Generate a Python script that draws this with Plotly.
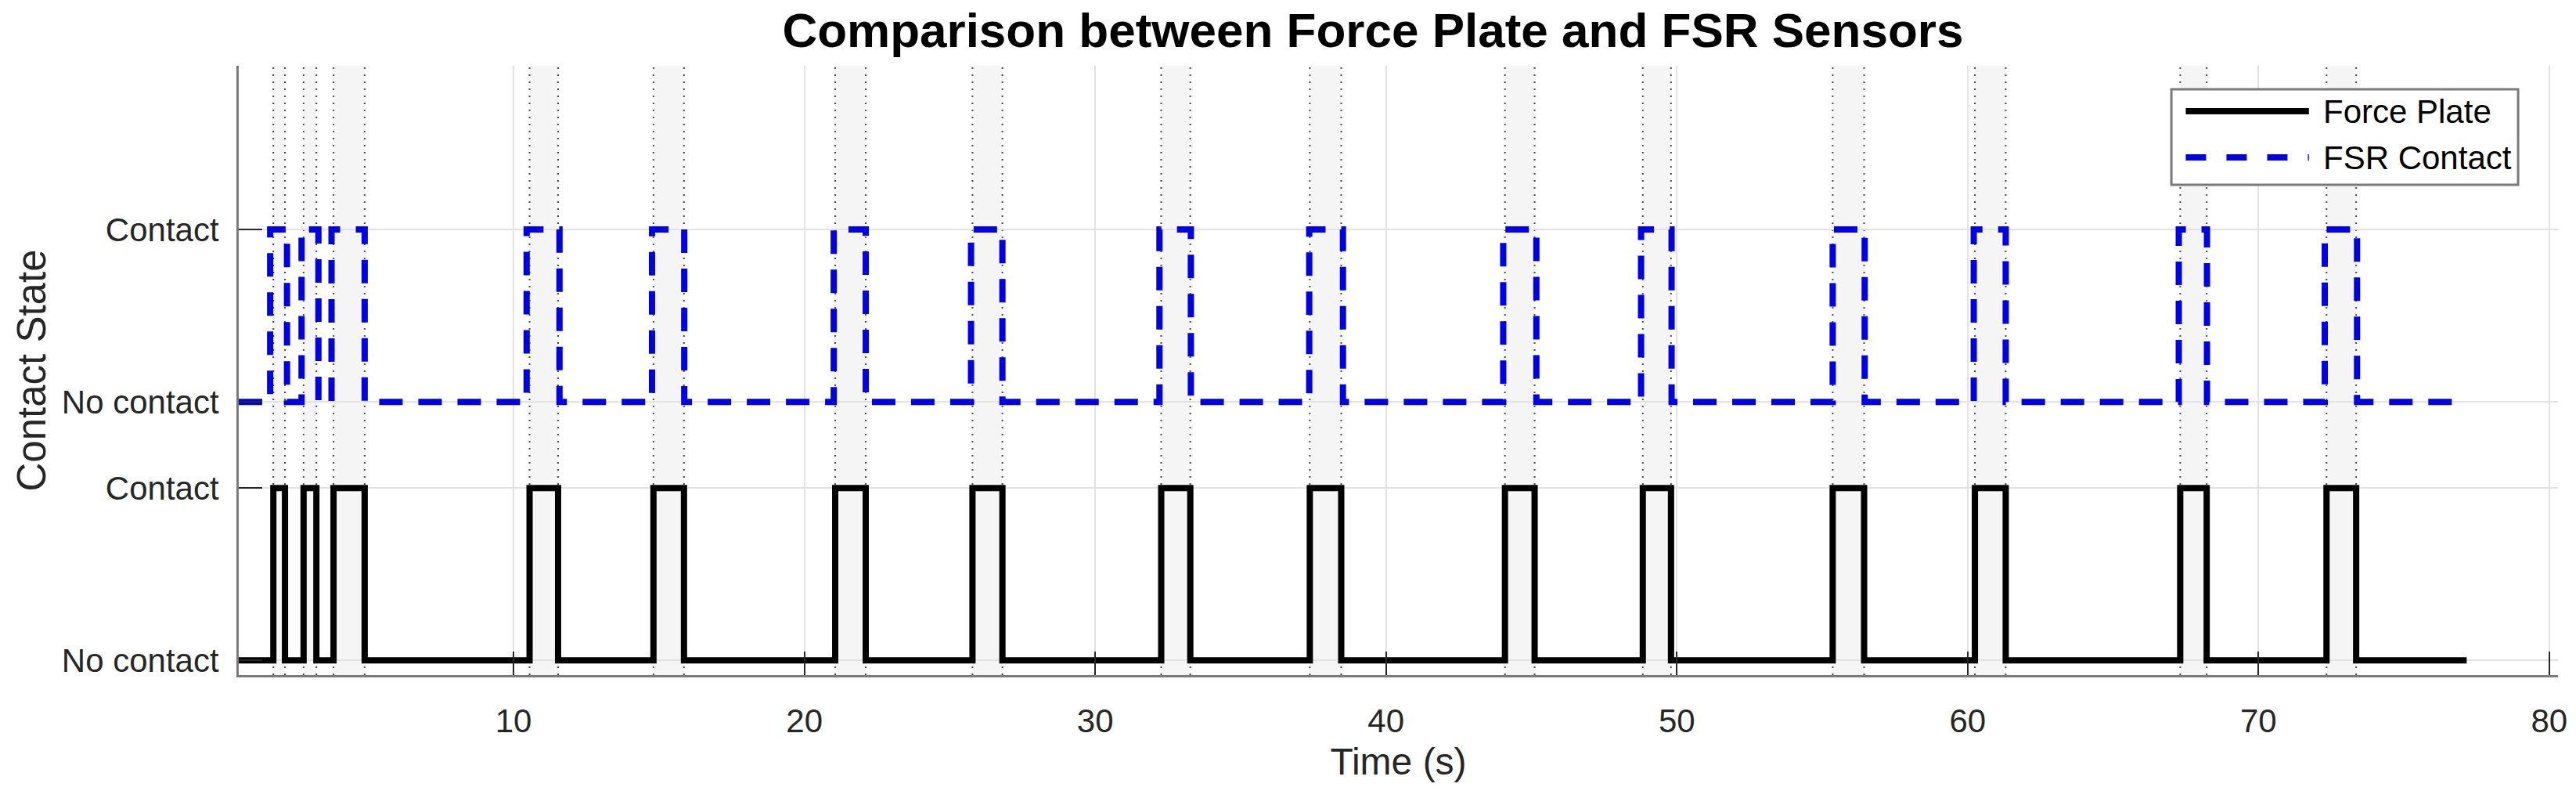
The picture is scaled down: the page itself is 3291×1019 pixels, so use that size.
import plotly.graph_objects as go

# ---------------- data ----------------
t_start = 0.55
t_end = 77.16

fp_rise = [1.74, 2.78, 3.81, 10.55, 14.81, 21.06, 25.78, 32.27, 37.38,
           44.09, 48.83, 55.36, 60.25, 67.31, 72.34]
fp_fall = [2.14, 3.22, 4.88, 11.53, 15.86, 22.11, 26.81, 33.27, 38.46,
           45.11, 49.80, 56.44, 61.31, 68.22, 73.36]

fsr_rise = [1.63, 2.71, 3.74, 10.45, 14.76, 21.01, 25.73, 32.21, 37.36,
            44.03, 48.77, 55.36, 60.21, 67.26, 72.28]
fsr_fall = [2.21, 3.29, 4.88, 11.58, 15.87, 22.11, 26.81, 33.29, 38.52,
            45.17, 49.82, 56.46, 61.31, 68.23, 73.39]

fsr_offset = 1.5

ytick_vals = [0, 1, 1.5, 2.5]
ytick_text = ["No contact", "Contact", "No contact", "Contact"]
xtick_vals = [10, 20, 30, 40, 50, 60, 70, 80]

series_names = ["Force Plate", "FSR Contact"]


def step_series(rises, falls, offset=0.0):
    xs = [t_start]
    ys = [0 + offset]
    for r, f in zip(rises, falls):
        xs += [r, f]
        ys += [1 + offset, 0 + offset]
    xs.append(t_end)
    ys.append(0 + offset)
    return xs, ys


fp_x, fp_y = step_series(fp_rise, fp_fall)
fsr_x, fsr_y = step_series(fsr_rise, fsr_fall, fsr_offset)

FONT = "Liberation Sans, Arial, Helvetica, sans-serif"
TXT = "#262626"
BLUE = "rgb(0,0,230)"

fig = go.Figure()

fig.add_trace(go.Scatter(
    x=fp_x, y=fp_y, mode="lines", line_shape="hv",
    line=dict(color="black", width=8), name=series_names[0], showlegend=False))
fig.add_trace(go.Scatter(
    x=fsr_x, y=fsr_y, mode="lines", line_shape="hv",
    line=dict(color=BLUE, width=8, dash="30px,20px"), name=series_names[1],
    showlegend=False))

shapes = []
for r, f in zip(fp_rise, fp_fall):
    shapes.append(dict(type="rect", xref="x", yref="paper", x0=r, x1=f, y0=0, y1=1,
                       fillcolor="#f5f5f5", line=dict(width=0), layer="below"))
for r, f in zip(fp_rise, fp_fall):
    for xv in (r, f):
        shapes.append(dict(type="line", xref="x", yref="paper", x0=xv, x1=xv, y0=0, y1=1,
                           line=dict(color="#4a4a4a", width=2, dash="2px,7px"),
                           layer="between"))

# custom legend (box, sample lines, labels) in paper coordinates
lx0, lx1, ly0, ly1 = 0.8333, 0.9828, 0.8046, 0.9614
row_y = [0.9254, 0.8496]
sx0, sx1 = 0.8395, 0.8926
tx = 0.8980
shapes.append(dict(type="rect", xref="paper", yref="paper", x0=lx0, x1=lx1, y0=ly0, y1=ly1,
                   fillcolor="white", line=dict(color="#7a7a7a", width=3), layer="above"))
shapes.append(dict(type="line", xref="paper", yref="paper", x0=sx0, x1=sx1,
                   y0=row_y[0], y1=row_y[0], line=dict(color="black", width=8), layer="above"))
shapes.append(dict(type="line", xref="paper", yref="paper", x0=sx0, x1=sx1,
                   y0=row_y[1], y1=row_y[1], line=dict(color=BLUE, width=8, dash="26px,26px"),
                   layer="above"))
annotations = []
for name, yy in zip(series_names, row_y):
    annotations.append(dict(text=name, xref="paper", yref="paper", x=tx, y=yy,
                            xanchor="left", yanchor="middle", showarrow=False,
                            font=dict(family=FONT, size=42, color="black")))

fig.update_layout(
    width=3291, height=1019,
    margin=dict(l=305, r=23, t=84, b=157),
    paper_bgcolor="white", plot_bgcolor="white",
    title=dict(text="Comparison between Force Plate and FSR Sensors",
               x=0.489, xref="paper", y=1 - 38 / 1019, yref="container",
               xanchor="center", yanchor="middle",
               font=dict(family=FONT, size=62, color="black", weight="bold")),
    shapes=shapes, annotations=annotations,
    showlegend=False,
    font=dict(family=FONT, color=TXT),
)

fig.update_xaxes(
    range=[0.55, 80.3], tickvals=xtick_vals, ticks="inside", ticklen=30, tickwidth=2,
    tickcolor=TXT, showline=True, linecolor="#7a7a7a", linewidth=3, mirror=False,
    showgrid=True, gridcolor="#e2e2e2", gridwidth=2, zeroline=False,
    tickfont=dict(family=FONT, size=42, color=TXT), ticklabelstandoff=20,
    title=dict(text="Time (s)", font=dict(family=FONT, size=48, color=TXT), standoff=12),
)
fig.update_yaxes(
    range=[-0.085, 3.45], tickvals=ytick_vals, ticktext=ytick_text, ticks="inside",
    ticklen=30, tickwidth=2, tickcolor=TXT, showline=True, linecolor="#7a7a7a",
    linewidth=3, mirror=False, showgrid=True, gridcolor="#e2e2e2", gridwidth=2,
    zeroline=False, tickfont=dict(family=FONT, size=42, color=TXT), ticklabelstandoff=14,
    title=dict(text="Contact State", font=dict(family=FONT, size=51, color=TXT), standoff=4),
)

fig.write_html("out.html")
